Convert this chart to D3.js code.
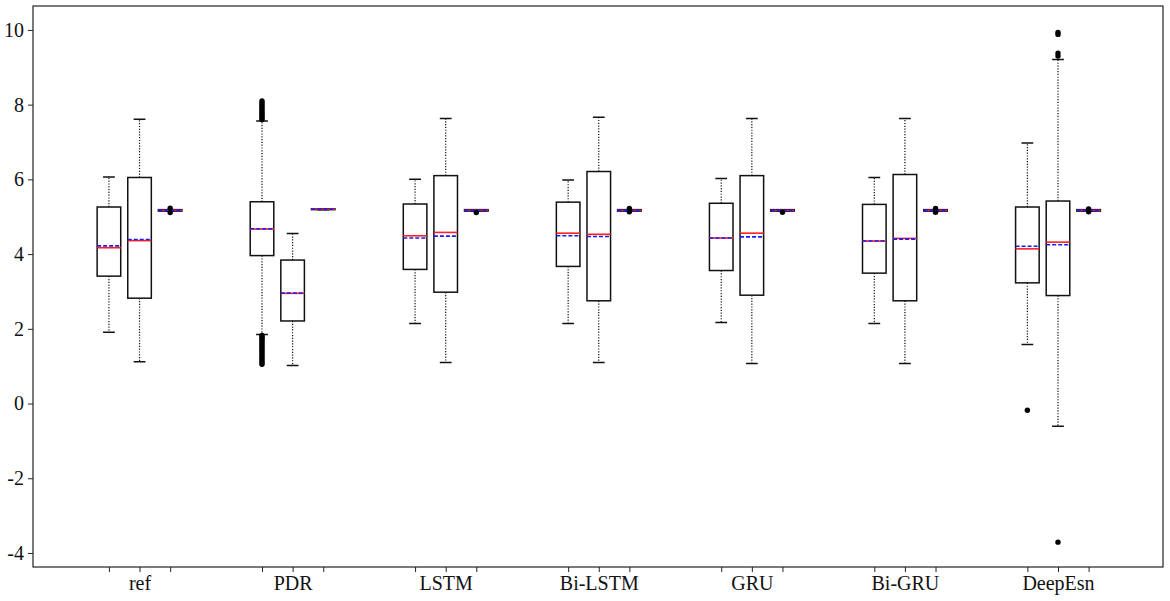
<!DOCTYPE html>
<html>
<head>
<meta charset="utf-8">
<script src="https://cdn.jsdelivr.net/npm/d3@7"></script>
<style>
  body { margin: 0; background: #fff; }
  svg { display: block; }
</style>
</head>
<body>
<div id="chart"></div>
<script>
'use strict';

// data: one triple per method (three boxes each)
var methods = ['ref', 'PDR', 'LSTM', 'Bi-LSTM', 'GRU', 'Bi-GRU', 'DeepEsn'];

var whiskerHigh = [
  [6.06, 7.61, 5.19],
  [7.56, 4.55, 5.21],
  [6.00, 7.63, 5.19],
  [5.98, 7.66, 5.19],
  [6.02, 7.63, 5.19],
  [6.05, 7.63, 5.19],
  [6.97, 9.21, 5.19]
];
var q3 = [
  [5.26, 6.05, 5.19],
  [5.40, 3.84, 5.21],
  [5.34, 6.10, 5.19],
  [5.39, 6.21, 5.19],
  [5.36, 6.10, 5.19],
  [5.33, 6.13, 5.19],
  [5.26, 5.42, 5.19]
];
var median = [
  [4.17, 4.36, 5.17],
  [4.67, 2.95, 5.20],
  [4.49, 4.58, 5.17],
  [4.56, 4.53, 5.17],
  [4.43, 4.56, 5.17],
  [4.35, 4.42, 5.17],
  [4.14, 4.32, 5.17]
];
var mean = [
  [4.22, 4.39, 5.17],
  [4.68, 2.96, 5.20],
  [4.43, 4.48, 5.17],
  [4.49, 4.47, 5.17],
  [4.43, 4.46, 5.17],
  [4.35, 4.40, 5.17],
  [4.21, 4.25, 5.17]
];
var q1 = [
  [3.41, 2.82, 5.15],
  [3.96, 2.21, 5.19],
  [3.59, 2.98, 5.15],
  [3.67, 2.75, 5.15],
  [3.56, 2.90, 5.15],
  [3.49, 2.75, 5.15],
  [3.23, 2.89, 5.15]
];
var whiskerLow = [
  [1.91, 1.12, 5.15],
  [1.85, 1.02, 5.19],
  [2.14, 1.10, 5.15],
  [2.14, 1.10, 5.15],
  [2.17, 1.07, 5.15],
  [2.14, 1.07, 5.15],
  [1.58, -0.61, 5.15]
];
var fliers = [
  [[], [], [5.23, 5.11]],
  [[7.60, 7.64, 7.68, 7.72, 7.76, 7.80, 7.85, 7.90, 7.95, 8.00, 8.05, 8.10,
    1.82, 1.78, 1.74, 1.70, 1.65, 1.60, 1.55, 1.50, 1.45, 1.40, 1.35, 1.30,
    1.25, 1.20, 1.15, 1.10, 1.05], [], []],
  [[], [], [5.11]],
  [[], [], [5.22, 5.13]],
  [[], [], [5.12]],
  [[], [], [5.22, 5.12]],
  [[-0.18], [9.30, 9.38, 9.88, 9.93, -3.71], [5.21, 5.13]]
];
var yTicks = [-4, -2, 0, 2, 4, 6, 8, 10];

var chart = {};
chart.width = 1170;
chart.height = 601;
chart.margins = {top: 6, bottom: 34, left: 33, right: 7};
chart.boxWidth = 0.77;
chart.font = '"Palatino Linotype", "Book Antiqua", Palatino, "Liberation Serif", "DejaVu Serif", serif';

chart.position = function (g, b) { return 1 + g * 5 + b; };

chart.build = function ()
{
  var boxes = [];
  for (var g = 0; g < methods.length; g++) {
    for (var b = 0; b < 3; b++) {
      boxes.push({
        pos: chart.position(g, b),
        lo: whiskerLow[g][b], q1: q1[g][b], med: median[g][b],
        mean: mean[g][b], q3: q3[g][b], hi: whiskerHigh[g][b],
        fliers: fliers[g][b],
        label: b === 1 ? methods[g] : ''
      });
    }
  }
  return boxes;
};

chart.draw = function (div)
{
  var m = chart.margins;
  var svg = d3.select(div).append('svg')
    .attr('width', chart.width)
    .attr('height', chart.height);

  var x = d3.scaleLinear().domain([-1.48, 35.43])
    .range([m.left, chart.width - m.right]);
  var y = d3.scaleLinear().domain([-4.375, 10.64])
    .range([chart.height - m.bottom, m.top]);

  var boxes = chart.build();
  var half = (x(chart.boxWidth) - x(0)) / 2;
  var cap = half / 2;

  var g = svg.append('g');

  // whiskers (dotted)
  g.selectAll('.whisker').data(boxes).enter().append('path')
    .attr('class', 'whisker')
    .attr('d', function (d) {
      return 'M' + x(d.pos) + ',' + y(d.q3) + 'V' + y(d.hi) +
             'M' + x(d.pos) + ',' + y(d.q1) + 'V' + y(d.lo);
    })
    .attr('stroke', '#111').attr('stroke-width', 1.2)
    .attr('stroke-dasharray', '1.2,1.6').attr('fill', 'none');

  // caps
  g.selectAll('.cap').data(boxes).enter().append('path')
    .attr('class', 'cap')
    .attr('d', function (d) {
      return 'M' + (x(d.pos) - cap) + ',' + y(d.hi) + 'H' + (x(d.pos) + cap) +
             'M' + (x(d.pos) - cap) + ',' + y(d.lo) + 'H' + (x(d.pos) + cap);
    })
    .attr('stroke', '#111').attr('stroke-width', 1.5).attr('fill', 'none');

  // boxes
  g.selectAll('.box').data(boxes).enter().append('rect')
    .attr('class', 'box')
    .attr('x', function (d) { return x(d.pos) - half; })
    .attr('y', function (d) { return y(d.q3); })
    .attr('width', half * 2)
    .attr('height', function (d) { return Math.max(0.5, y(d.q1) - y(d.q3)); })
    .attr('fill', '#fff')
    .attr('stroke', '#111').attr('stroke-width', 1.5);

  // medians (red solid)
  g.selectAll('.median').data(boxes).enter().append('line')
    .attr('class', 'median')
    .attr('x1', function (d) { return x(d.pos) - half; })
    .attr('x2', function (d) { return x(d.pos) + half; })
    .attr('y1', function (d) { return y(d.med); })
    .attr('y2', function (d) { return y(d.med); })
    .attr('stroke', '#ff2020').attr('stroke-width', 1.6);

  // means (blue dashed)
  g.selectAll('.mean').data(boxes).enter().append('line')
    .attr('class', 'mean')
    .attr('x1', function (d) { return x(d.pos) - half; })
    .attr('x2', function (d) { return x(d.pos) + half; })
    .attr('y1', function (d) { return y(d.mean); })
    .attr('y2', function (d) { return y(d.mean); })
    .attr('stroke', '#1a1aff').attr('stroke-width', 1.6)
    .attr('stroke-dasharray', '4,2');

  // outliers
  var pts = [];
  boxes.forEach(function (d) {
    d.fliers.forEach(function (v) { pts.push({pos: d.pos, v: v}); });
  });
  g.selectAll('.flier').data(pts).enter().append('circle')
    .attr('class', 'flier')
    .attr('cx', function (d) { return x(d.pos); })
    .attr('cy', function (d) { return y(d.v); })
    .attr('r', 2.7)
    .attr('fill', '#000');

  // axes
  var xAxis = d3.axisBottom(x)
    .tickValues(boxes.map(function (d) { return d.pos; }))
    .tickFormat(function (p) {
      var b = boxes.filter(function (d) { return d.pos === p; })[0];
      return b ? b.label : '';
    })
    .tickSize(5).tickPadding(4).tickSizeOuter(0);
  var yAxis = d3.axisLeft(y)
    .tickValues(yTicks)
    .tickFormat(function (v) { return String(v); })
    .tickSize(5).tickPadding(4).tickSizeOuter(0);

  var xg = svg.append('g')
    .attr('transform', 'translate(0,' + (chart.height - m.bottom) + ')')
    .call(xAxis);
  var yg = svg.append('g')
    .attr('transform', 'translate(' + m.left + ',0)')
    .call(yAxis);

  [xg, yg].forEach(function (a) {
    a.select('.domain').remove();
    a.selectAll('.tick line').attr('stroke', '#222').attr('stroke-width', 1);
    a.selectAll('.tick text')
      .attr('fill', '#111')
      .style('font-family', chart.font)
      .style('font-size', '20px');
  });

  // frame
  svg.append('rect')
    .attr('x', m.left).attr('y', m.top)
    .attr('width', chart.width - m.left - m.right)
    .attr('height', chart.height - m.top - m.bottom)
    .attr('fill', 'none')
    .attr('stroke', '#222').attr('stroke-width', 1.2);
};

chart.draw('#chart');
</script>
</body>
</html>
